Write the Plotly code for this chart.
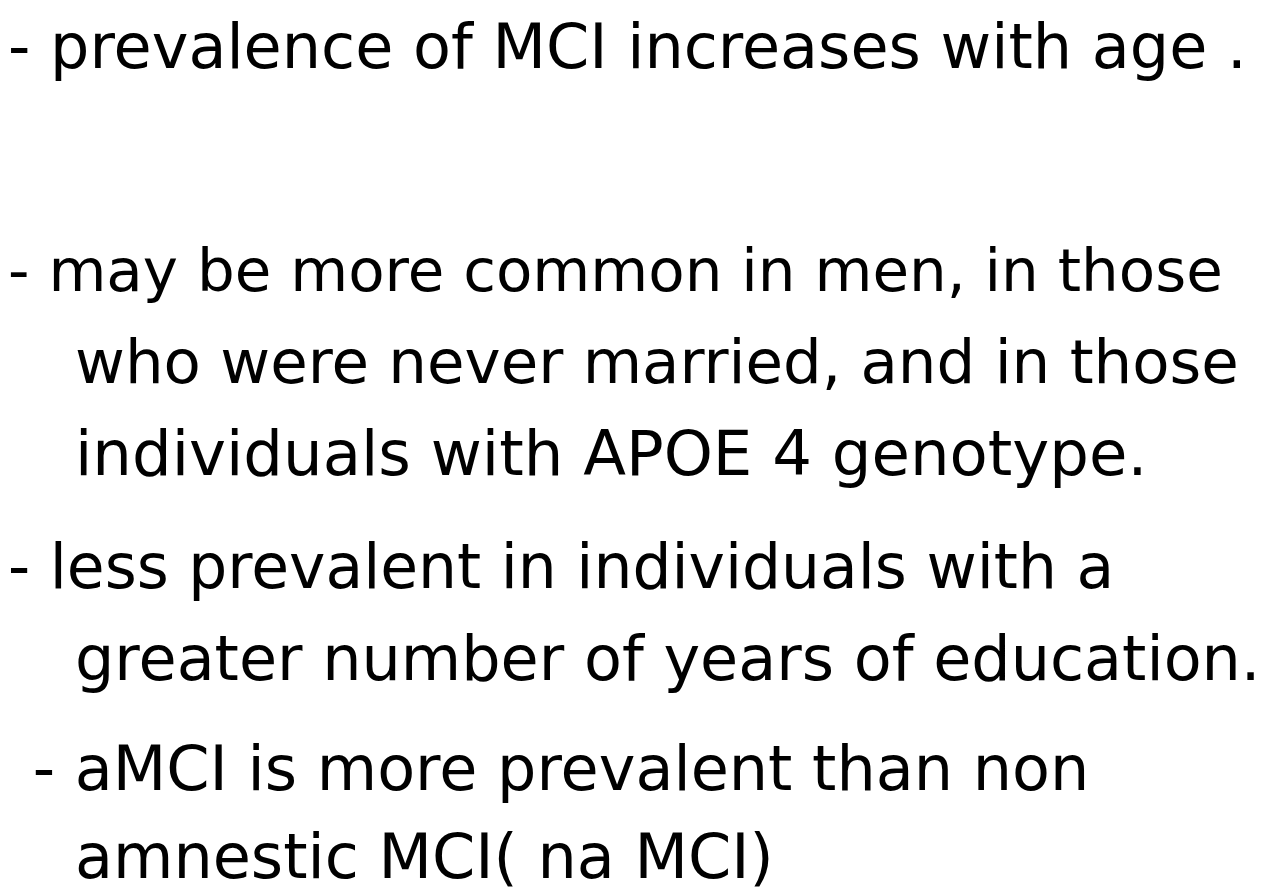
import plotly.graph_objects as go

# ---- content (text lines of the slide) ----
lines = [
    "- prevalence of MCI increases with age .",
    "- may be more common in men, in those",
    "who were never married, and in those",
    "individuals with APOE 4 genotype.",
    "- less prevalent in individuals with a",
    "greater number of years of education.",
    " - aMCI is more prevalent than non",
    "amnestic MCI( na MCI)",
]

# ---- layout (pixel positions / sizes) ----
W, H = 1272, 889
font_sizes = [62, 59.5, 61, 62.5, 61.5, 62, 62, 62]
baselines = [60, 283, 375, 467, 580, 672, 782, 870]
x_left = [-1, -1, 66, 66, -1, 66, 4, 66]

fig = go.Figure()
fig.add_trace(go.Scatter(x=[0, W], y=[0, H], mode="markers",
                         marker=dict(opacity=0), hoverinfo="skip", showlegend=False))

for txt, yb, xl, fs in zip(lines, baselines, x_left, font_sizes):
    fig.add_annotation(
        x=xl / W, y=1 - (yb - 0.346 * fs) / H, xref="paper", yref="paper",
        text=txt.replace(" ", "&nbsp;", 1) if txt.startswith(" ") else txt,
        showarrow=False, xanchor="left", yanchor="middle",
        font=dict(family="DejaVu Sans", size=fs, color="#000000"),
        borderpad=0,
    )

fig.update_xaxes(range=[0, W], visible=False, fixedrange=True)
fig.update_yaxes(range=[H, 0], visible=False, fixedrange=True)
fig.update_layout(
    width=W, height=H,
    margin=dict(l=0, r=0, t=0, b=0),
    paper_bgcolor="white", plot_bgcolor="white",
    showlegend=False, hovermode=False,
)
fig.write_html("out.html", config={"displayModeBar": False})
